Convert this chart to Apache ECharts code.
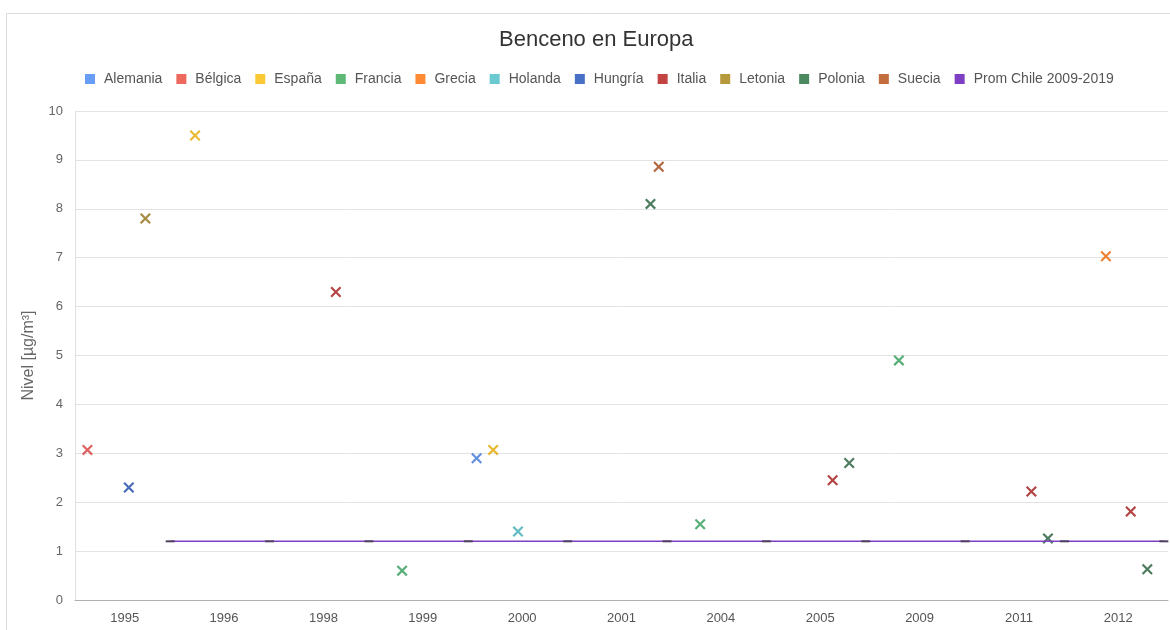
<!DOCTYPE html>
<html>
<head>
<meta charset="utf-8">
<script src="https://cdn.jsdelivr.net/npm/echarts@6/dist/echarts.min.js"></script>
<style>html,body{margin:0;padding:0;background:#fff}#c{width:1170px;height:630px}</style>
</head>
<body>
<div id="c"></div>
<script>
// Category labels (x axis)
const years = ['1995','1996','1998','1999','2000','2001','2004','2005','2009','2011','2012'];
// Series names (legend order)
const seriesNames = ['Alemania','Bélgica','España','Francia','Grecia','Holanda','Hungría','Italia','Letonia','Polonia','Suecia','Prom Chile 2009-2019'];
// Values per country: [year, level µg/m³]
const alemania = [['2000', 2.9]];
const belgica  = [['1995', 3.07]];
const espana   = [['1996', 9.5], ['2000', 3.07]];
const francia  = [['1999', 0.6], ['2004', 1.55], ['2009', 4.9]];
const grecia   = [['2012', 7.03]];
const holanda  = [['2000', 1.4]];
const hungria  = [['1995', 2.3]];
const italia   = [['1998', 6.3], ['2005', 2.45], ['2011', 2.22], ['2012', 1.81]];
const letonia  = [['1995', 7.8]];
const polonia  = [['2001', 8.1], ['2005', 2.8], ['2011', 1.26], ['2012', 0.63]];
const suecia   = [['2001', 8.86]];
const promChile = [1.2,1.2,1.2,1.2,1.2,1.2,1.2,1.2,1.2,1.2,1.2];

const colors = ['#4285F4','#EA4335','#FBBC04','#34A853','#FF6D01','#46BDC6','#1A4DB8','#B31412','#A47F0A','#1E6B3A','#B4470E','#7E3FC4'];
const markColors = ['#3b74d8','#d83a3a','#e3a800','#2e9a55','#e86200','#3aaab3','#1a45a8','#a01515','#8d6e10','#1f5a36','#9c4213','#7E3FC4'];
const countryData = [alemania, belgica, espana, francia, grecia, holanda, hungria, italia, letonia, polonia, suecia];
const nSlots = seriesNames.length;
const slotX = (k, i) => k + (i + 0.5) / nSlots;

const xMark = 'path://M0,1.4 L1.4,0 L10,8.6 L8.6,10 Z M8.6,0 L10,1.4 L1.4,10 L0,8.6 Z';

const series = countryData.map((arr, i) => ({
  name: seriesNames[i],
  type: 'scatter',
  xAxisIndex: 1,
  symbol: xMark,
  symbolSize: 11,
  itemStyle: { color: markColors[i] },
  data: arr.map(([y, v]) => [slotX(years.indexOf(y), i), v])
}));
series.push({
  name: seriesNames[11],
  type: 'line',
  xAxisIndex: 1,
  symbol: 'rect',
  symbolSize: [9, 2],
  showSymbol: true,
  itemStyle: { color: '#4f4260' },
  lineStyle: { color: colors[11], width: 1.5 },
  data: promChile.map((v, k) => [slotX(k, 11), v])
});

const chart = echarts.init(document.getElementById('c'), null, { renderer: 'canvas' });
chart.setOption({
  animation: false,
  color: colors,
  textStyle: { fontFamily: 'Liberation Sans, Arial, sans-serif' },
  graphic: [{
    type: 'rect', silent: true, z: -1,
    shape: { x: 6.5, y: 13.5, width: 1200, height: 700 },
    style: { fill: 'none', stroke: '#dcdcdc', lineWidth: 1 }
  }],
  title: {
    text: 'Benceno en Europa',
    left: 494, top: 24,
    textStyle: { fontSize: 22, fontWeight: 'normal', color: '#333', fontFamily: 'Liberation Sans, Arial, sans-serif' }
  },
  legend: {
    top: 67, left: 80,
    icon: 'rect', itemWidth: 10, itemHeight: 10, itemGap: 14,
    textStyle: { fontSize: 14, color: '#555', padding: [0, 0, 0, 4] },
    data: seriesNames.map((n, i) => ({ name: n, itemStyle: { color: colors[i] } }))
  },
  grid: { left: 75, right: 2, top: 111, bottom: 30, containLabel: false },
  xAxis: [{
    type: 'category',
    data: years,
    boundaryGap: true,
    axisTick: { show: false },
    axisLine: { show: true, lineStyle: { color: '#b0b0b0' } },
    axisLabel: { color: '#555', fontSize: 13, margin: 12 },
    splitLine: { show: false }
  }, {
    type: 'value',
    min: 0, max: years.length,
    show: false,
    position: 'top'
  }],
  yAxis: {
    type: 'value',
    min: 0, max: 10, interval: 1,
    name: 'Nivel [µg/m³]',
    nameLocation: 'middle',
    nameGap: 38,
    nameTextStyle: { color: '#666', fontSize: 16 },
    axisLine: { show: true, lineStyle: { color: '#e0e0e0' } },
    axisTick: { show: false },
    axisLabel: { color: '#666', fontSize: 13, margin: 12 },
    splitLine: { lineStyle: { color: '#e3e3e3' } }
  },
  series: series
});
</script>
</body>
</html>
